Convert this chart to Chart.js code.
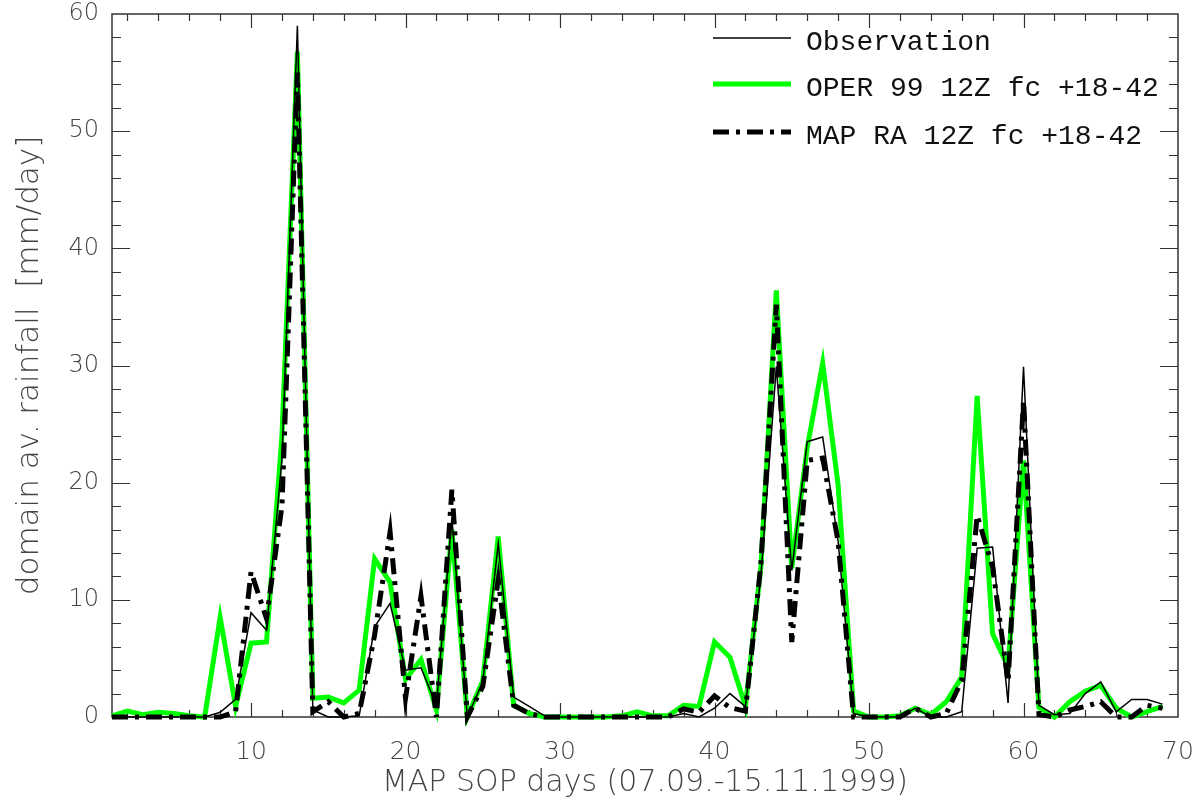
<!DOCTYPE html>
<html lang="en">
<head>
  <meta charset="UTF-8" />
  <title>MAP SOP rainfall</title>
  <script src="https://cdn.jsdelivr.net/npm/chart.js@4.4.1/dist/chart.umd.min.js"></script>
  <style>
    html, body {margin: 0; padding: 0; background: #fff;}
    #wrap {width: 1197px; height: 800px;}
  </style>
</head>
<body>
  <div id="wrap"><canvas id="rainChart" width="1197" height="800"></canvas></div>

  <script>
    // days of the MAP SOP (07.09.-15.11.1999)
    const days = [1,2,3,4,5,6,7,8,9,10,11,12,13,14,15,16,17,18,19,20,
                  21,22,23,24,25,26,27,28,29,30,31,32,33,34,35,36,37,38,39,40,
                  41,42,43,44,45,46,47,48,49,50,51,52,53,54,55,56,57,58,59,60,
                  61,62,63,64,65,66,67,68,69];

    // domain averaged rainfall, mm/day
    const observation = [0,0,0,0,0,0,0,0.4,1.5,8.9,7.4,22,59,0.6,0,0,0.1,7.7,9.7,4.0,
                         4.2,1.0,17,0,3,14.8,1.7,0.9,0.1,0,0,0,0,0,0,0,0,0.3,0,0.75,
                         2.0,0.9,12,29.9,12.5,23.5,23.9,15,0.3,0,0,0,0.75,0,0,0.45,14.4,14.5,1.2,29.9,
                         1.0,0.2,0.3,2.0,3.0,0.45,1.5,1.5,1.1];

    const oper99 = [0.1,0.5,0.2,0.4,0.3,0.1,0,8.5,0.9,6.3,6.4,24,56.8,1.6,1.7,1.2,2.3,13.5,11.5,3.2,
                    4.9,0.6,16,0,3.1,15.4,1.0,0.3,0,0,0,0,0,0.1,0.45,0.1,0.1,1.0,0.9,6.4,
                    5.1,0.9,12.8,36.4,12.7,23,30.2,19.8,0.5,0,0,0.1,0.75,0.2,1.3,3.4,27.4,7.1,4.3,21.9,
                    0.8,0,1.3,2.2,2.7,0.75,0,0.45,0.9];

    const mapRA = [0,0,0,0,0,0,0,0,0.45,12.4,8.4,18,55,0.45,1.3,0,0.3,7,15.8,1.6,
                   10.3,0,19.4,0,2.6,11.7,1.0,0.3,0,0,0,0,0,0,0,0,0,0.7,0.4,1.8,
                   0.8,0.5,13,35.2,6.4,21.9,22.1,15,0,0,0,0,0.75,0,0.3,3.1,17.2,12.8,3.0,27,
                   0.2,0,0.6,0.9,1.3,0,0,1.0,0.75];

    const seriesLabels = ["Observation", "OPER 99 12Z fc +18-42", "MAP RA 12Z fc +18-42"];
    const xTickValues = [10, 20, 30, 40, 50, 60, 70];
    const yTickValues = [0, 10, 20, 30, 40, 50, 60];

    const lightFont = "'DejaVu Sans', sans-serif";

    function pts(vals) {
      return days.map((d, i) => ({x: d, y: vals[i]}));
    }

    // box with inward ticks on all four sides (IDL style)
    const framePlugin = {
      id: "frame",
      beforeDatasetsDraw(chart) {
        const {ctx, chartArea: a, scales: {x, y}} = chart;
        ctx.save();
        ctx.strokeStyle = "#333";
        ctx.lineWidth = 1.5;
        ctx.strokeRect(a.left, a.top, a.right - a.left, a.bottom - a.top);
        ctx.lineWidth = 1.2;
        ctx.beginPath();
        for (let v = 2; v < 70; v += 2) {
          const px = Math.round(x.getPixelForValue(v)) + 0.5;
          const len = v % 10 === 0 ? 14 : 7;
          ctx.moveTo(px, a.bottom); ctx.lineTo(px, a.bottom - len);
          ctx.moveTo(px, a.top); ctx.lineTo(px, a.top + len);
        }
        for (let v = 2; v < 60; v += 2) {
          const py = Math.round(y.getPixelForValue(v)) + 0.5;
          const len = v % 10 === 0 ? 18 : 9;
          ctx.moveTo(a.left, py); ctx.lineTo(a.left + len, py);
          ctx.moveTo(a.right, py); ctx.lineTo(a.right - len, py);
        }
        ctx.stroke();
        ctx.restore();
      }
    };

    // legend in the upper right corner of the plot
    const legendPlugin = {
      id: "boxLegend",
      afterDraw(chart) {
        const {ctx} = chart;
        const rows = [38, 84, 132];
        ctx.save();
        ctx.font = "28px 'Liberation Mono', monospace";
        ctx.fillStyle = "#111";
        ctx.textBaseline = "alphabetic";
        chart.data.datasets.forEach((ds, i) => {
          const yy = rows[i];
          ctx.beginPath();
          ctx.strokeStyle = ds.borderColor;
          ctx.lineWidth = ds.borderWidth;
          ctx.lineCap = "butt";
          ctx.setLineDash(ds.borderDash || []);
          ctx.moveTo(713, yy); ctx.lineTo(791, yy);
          ctx.stroke();
          ctx.setLineDash([]);
          ctx.fillText(ds.label, 806, yy + 12);
        });
        ctx.restore();
      }
    };

    new Chart(document.getElementById("rainChart").getContext("2d"), {
      type: "line",
      data: {
        datasets: [
          {label: seriesLabels[0], data: pts(observation), borderColor: "#000", borderWidth: 1.5, order: 0},
          {label: seriesLabels[1], data: pts(oper99), borderColor: "#00ff00", borderWidth: 5, order: 2},
          {label: seriesLabels[2], data: pts(mapRA), borderColor: "#000", borderWidth: 5,
           borderDash: [16, 7, 4, 7], order: 1}
        ]
      },
      options: {
        responsive: false,
        animation: false,
        clip: false,
        layout: {padding: {left: 0, right: 19, top: 14, bottom: 2}},
        elements: {
          point: {radius: 0},
          line: {tension: 0, borderCapStyle: "butt", borderJoinStyle: "miter", fill: false}
        },
        plugins: {
          legend: {display: false},
          tooltip: {enabled: false},
          title: {display: false}
        },
        scales: {
          x: {
            type: "linear",
            min: 1, max: 70,
            grid: {display: false, drawTicks: false},
            border: {display: false},
            afterBuildTicks: s => { s.ticks = xTickValues.map(v => ({value: v})); },
            afterFit: s => { s.height = 81; s.paddingLeft = 0; s.paddingRight = 0; },
            ticks: {
              color: "#444", padding: 20,
              font: {family: lightFont, size: 25, weight: "200"},
              maxRotation: 0
            },
            title: {
              display: true,
              text: "MAP SOP days (07.09.-15.11.1999)",
              color: "#444",
              font: {family: lightFont, size: 30, weight: "200", lineHeight: 1},
              padding: {top: 0, bottom: 0}
            }
          },
          y: {
            min: 0, max: 60,
            grid: {display: false, drawTicks: false},
            border: {display: false},
            afterBuildTicks: s => { s.ticks = yTickValues.map(v => ({value: v})); },
            afterFit: s => { s.width = 112; s.paddingTop = 0; s.paddingBottom = 0; },
            ticks: {
              color: "#444", padding: 13,
              font: {family: lightFont, size: 24, weight: "200"}
            },
            title: {
              display: true,
              text: "domain av. rainfall  [mm/day]",
              color: "#444",
              font: {family: lightFont, size: 31, weight: "200"},
              padding: {top: 11, bottom: 0}
            }
          }
        }
      },
      plugins: [framePlugin, legendPlugin]
    });
  </script>
</body>
</html>
